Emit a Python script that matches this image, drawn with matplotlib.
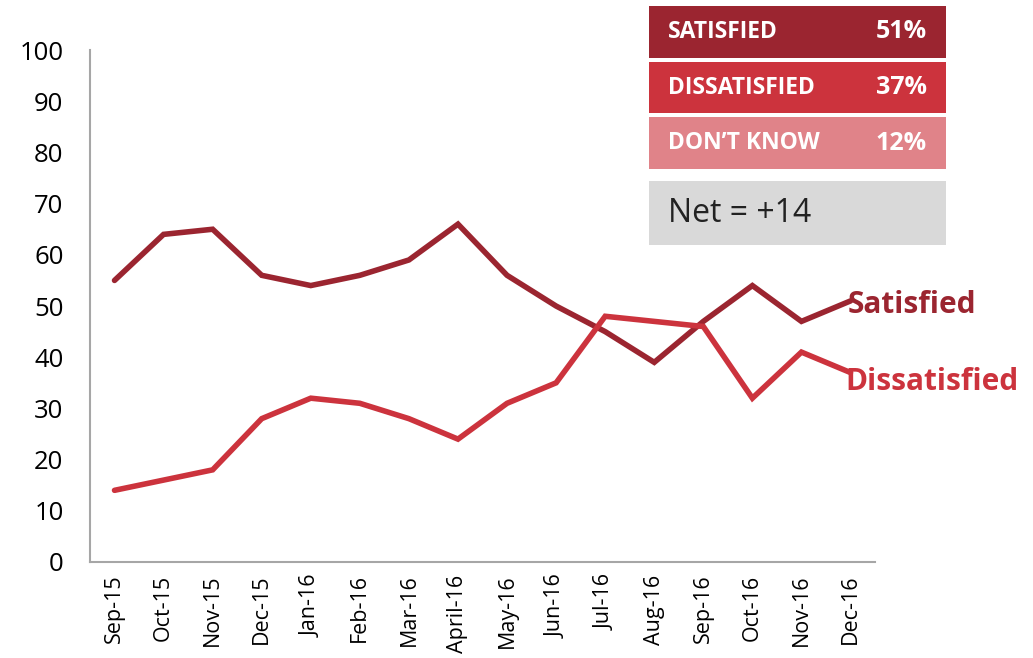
# Satisfaction trend, Sep-15 .. Dec-16
# Uses: numpy, matplotlib

import numpy as np
import matplotlib.pyplot as plt
from matplotlib.patches import Rectangle

plt.rcParams['font.family'] = ['Open Sans', 'DejaVu Sans']

months = ["Sep-15", "Oct-15", "Nov-15", "Dec-15", "Jan-16", "Feb-16", "Mar-16", "April-16",
          "May-16", "Jun-16", "Jul-16", "Aug-16", "Sep-16", "Oct-16", "Nov-16", "Dec-16"]
satisfied = [55, 64, 65, 56, 54, 56, 59, 66, 56, 50, 45, 39, 47, 54, 47, 51]
dissatisfied = [14, 16, 18, 28, 32, 31, 28, 24, 31, 35, 48, 47, 46, 32, 41, 37]

box_labels = ["SATISFIED", "DISSATISFIED", "DON\u2019T KNOW"]
box_values = ["51%", "37%", "12%"]
net_text = "Net = +14"

DARK = "#9B2530"
RED = "#CC333D"
PINK = "#E08389"
GREY = "#D9D9D9"

fig = plt.figure(figsize=(10.33, 6.58), dpi=100)
ax = fig.add_axes([0.0871, 0.1459, 0.760, 0.778])

x = np.arange(len(months))
ax.plot(x, satisfied, color=DARK, lw=4, solid_joinstyle="miter", solid_capstyle="round")
ax.plot(x, dissatisfied, color=RED, lw=4, solid_joinstyle="miter", solid_capstyle="round")

ax.set_xlim(-0.5, len(months) - 0.5)
ax.set_ylim(0, 100)
ax.set_yticks(range(0, 101, 10))
ax.set_xticks(x)
ax.set_xticklabels(months, rotation=90, fontsize=15.5)
ax.tick_params(axis="y", labelsize=18.5, length=0, pad=19)
ax.tick_params(axis="x", length=0, pad=9)

for s in ["top", "right"]:
    ax.spines[s].set_visible(False)
for s in ["left", "bottom"]:
    ax.spines[s].set_color("#A6A6A6")
    ax.spines[s].set_linewidth(1.5)

# end-of-line labels
ax.annotate("Satisfied", (x[-1], satisfied[-1]), xytext=(-2, -3), textcoords="offset points",
            color=DARK, fontsize=21.5, fontweight="bold", va="center", ha="left", annotation_clip=False)
ax.annotate("Dissatisfied", (x[-1], dissatisfied[-1]), xytext=(-4, -7), textcoords="offset points",
            color=RED, fontsize=21.5, fontweight="bold", va="center", ha="left", annotation_clip=False)

# summary boxes (figure pixel coords -> fraction)
W, H = 1033, 658
def fig_box(x0, y0, x1, y1, color):
    fig.add_artist(Rectangle((x0 / W, 1 - y1 / H), (x1 - x0) / W, (y1 - y0) / H,
                             transform=fig.transFigure, facecolor=color, edgecolor="none"))

rows = [(6, 58, DARK), (62, 113, RED), (117, 169, PINK)]
for (y0, y1, c), lab, val in zip(rows, box_labels, box_values):
    fig_box(649, y0, 946, y1, c)
    yc = 1 - (y0 + y1) / 2 / H
    fig.text(668 / W, yc, lab, color="white", fontsize=16.5, fontweight="bold", va="center", ha="left")
    fig.text(927 / W, yc, val, color="white", fontsize=18, fontweight="bold", va="center", ha="right")

fig_box(649, 181, 946, 245, GREY)
fig.text(668 / W, 1 - 213 / H, net_text, color="#222222", fontsize=23, va="center", ha="left")

plt.savefig("out.png", dpi=100)
